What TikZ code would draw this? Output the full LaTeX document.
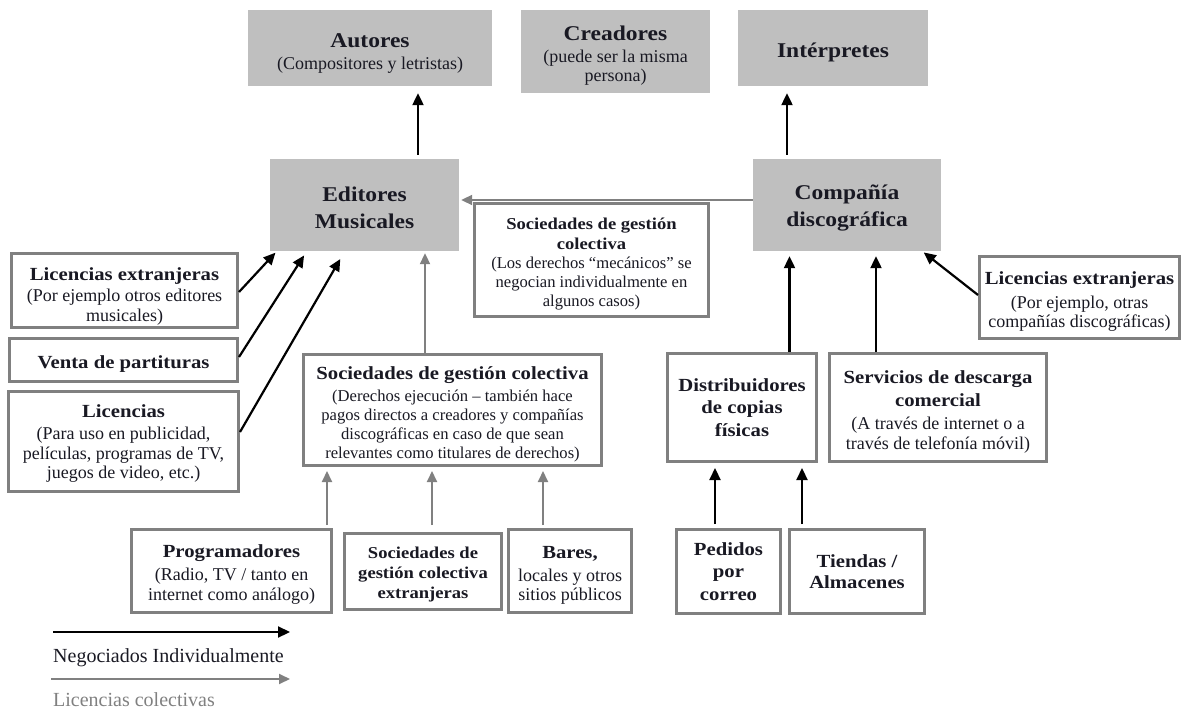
\documentclass[tikz,border=0pt]{standalone}
\usepackage{fontspec}
\setmainfont{Liberation Serif}[BoldFeatures={FakeStretch=1.12}]
\usepackage{xcolor}
\usepackage{tikz}
\usetikzlibrary{arrows.meta}
\definecolor{boxgray}{RGB}{191,191,191}
\definecolor{framegray}{RGB}{128,128,128}
\definecolor{txt}{RGB}{25,25,35}
\newcommand\bigtitle{\fontsize{21}{27}\selectfont\bfseries}
\newcommand\boxtitle{\fontsize{18.5}{22.5}\selectfont\bfseries}
\newcommand\smalltitle{\fontsize{16.6}{20}\selectfont\bfseries}
\newcommand\subtext{\fontsize{18}{19.5}\selectfont}
\newcommand\smalltext{\fontsize{16.6}{19}\selectfont}
\newcommand\capgap[1]{\rule{0pt}{#1pt}}

\begin{document}
\begin{tikzpicture}[x=1pt,y=-1pt,
  graybox/.style={fill=boxgray,inner sep=0pt,align=center,text=txt,font=\subtext},
  framebox/.style={draw=framegray,line width=3pt,fill=white,inner sep=0pt,align=center,text=txt,font=\subtext},
  blkarrow/.style={draw=black,line width=2.2pt,-{Triangle[length=12pt,width=11pt]}},
  grayarrow/.style={draw=framegray,line width=2pt,-{Triangle[length=11pt,width=10pt]}}]
\useasboundingbox (0,0) rectangle (1183,711);
% titulares
\node[graybox,minimum width=244pt,minimum height=76pt] (autores) at (370,48)
  {{\bigtitle\capgap{24}Autores}\\[2.5pt](Compositores y letristas)};
\node[graybox,minimum width=189pt,minimum height=83pt] (creadores) at (615.5,51.5)
  {{\bigtitle\capgap{22.5}Creadores}\\[2.5pt](puede ser la misma\\persona)};
\node[graybox,minimum width=190pt,minimum height=76pt,font=\bigtitle] (interpretes) at (833,48)
  {\capgap{23}Intérpretes};
\node[graybox,minimum width=189pt,minimum height=92pt,font=\bigtitle] (editores) at (364.5,205)
  {\capgap{20.5}Editores\\Musicales};
\node[graybox,minimum width=188pt,minimum height=92pt,font=\bigtitle] (compania) at (847,205)
  {\capgap{20.5}Compañía\\discográfica};
% lado editores
\node[framebox,minimum width=234pt,minimum height=113pt,font=\smalltext] (socmec) at (591.5,260)
  {{\smalltitle\capgap{20}Sociedades de gestión}\\[1pt]{\smalltitle colectiva}\\(Los derechos “mecánicos” se\\negocian individualmente en\\algunos casos)};
\node[framebox,minimum width=226pt,minimum height=74pt] (lext1) at (124.5,290.5)
  {{\boxtitle\capgap{24}Licencias extranjeras}\\[2pt](Por ejemplo otros editores\\musicales)};
\node[framebox,minimum width=228pt,minimum height=43pt,font=\boxtitle] (venta) at (123.5,360)
  {\capgap{20}Venta de partituras};
\node[framebox,minimum width=230pt,minimum height=100pt] (licen) at (123.5,441.5)
  {{\boxtitle\capgap{16.6}Licencias}\\[3pt](Para uso en publicidad,\\películas, programas de TV,\\juegos de video, etc.)};
\node[framebox,minimum width=298pt,minimum height=111pt,font=\smalltext] (soccol) at (452.5,410)
  {{\boxtitle\capgap{20.6}Sociedades de gestión colectiva}\\[3pt](Derechos ejecución -- también hace\\pagos directos a creadores y compañías\\discográficas en caso de que sean\\relevantes como titulares de derechos)};
\node[framebox,minimum width=200pt,minimum height=83pt] (prog) at (231.5,571)
  {{\boxtitle\capgap{19.6}Programadores}\\[3.5pt](Radio, TV / tanto en\\internet como análogo)};
\node[framebox,minimum width=157pt,minimum height=76pt,font=\smalltitle] (socext) at (423,571.5)
  {\capgap{17.3}Sociedades de\\gestión colectiva\\extranjeras};
\node[framebox,minimum width=123pt,minimum height=83pt] (bares) at (570,571)
  {{\boxtitle\capgap{20.6}Bares,}\\[3.5pt]locales y otros\\sitios públicos};
% lado discografica
\node[framebox,minimum width=200pt,minimum height=82pt] (lext2) at (1079.5,297.5)
  {{\boxtitle\capgap{21.6}Licencias extranjeras}\\[4pt](Por ejemplo, otras\\compañías discográficas)};
\node[framebox,minimum width=149pt,minimum height=108pt,font=\boxtitle] (distr) at (742,407.5)
  {Distribuidores\\de copias\\físicas};
\node[framebox,minimum width=217pt,minimum height=108pt] (serv) at (938,407.5)
  {{\boxtitle\capgap{21.6}Servicios de descarga}\\[3.5pt]{\boxtitle comercial}\\[4pt](A través de internet o a\\través de telefonía móvil)};
\node[framebox,minimum width=104pt,minimum height=84pt,font=\boxtitle] (pedidos) at (728.5,571.5)
  {Pedidos\\por\\correo};
\node[framebox,minimum width=135pt,minimum height=84pt,font=\boxtitle] (tiendas) at (857,571.5)
  {Tiendas /\\[-2pt]Almacenes};
% flechas negras
\draw[blkarrow,shorten <=4pt,shorten >=7pt] ([xshift=53.5pt]editores.north) -- ([xshift=53.5pt]editores.north |- autores.south);
\draw[blkarrow,shorten <=4pt,shorten >=7pt] ([xshift=-60pt]compania.north) -- ([xshift=-60pt]compania.north |- interpretes.south);
\draw[blkarrow,shorten >=2pt] ([yshift=-1.5pt]lext1.east) -- ([xshift=7pt]editores.south west);
\draw[blkarrow,shorten >=5pt] ([yshift=3pt]venta.east) -- ([xshift=37pt]editores.south west);
\draw[blkarrow,shorten >=9pt] ([yshift=9.5pt]licen.east) -- ([xshift=75pt]editores.south west);
\draw[blkarrow,shorten >=5pt] ([xshift=47.5pt]distr.north) -- ([xshift=47.5pt]distr.north |- compania.south);
\draw[blkarrow,shorten >=5pt] ([xshift=-62pt]serv.north) -- ([xshift=-62pt]serv.north |- compania.south);
\draw[blkarrow,shorten >=2pt] ([yshift=2.5pt]lext2.west) -- ([xshift=-19pt]compania.south east);
\draw[blkarrow,shorten <=4pt,shorten >=5pt] ([xshift=-13.5pt]pedidos.north) -- ([xshift=-13.5pt]pedidos.north |- distr.south);
\draw[blkarrow,shorten <=4pt,shorten >=5pt] ([xshift=-55pt]tiendas.north) -- ([xshift=-55pt]tiendas.north |- distr.south);
% flechas grises
\draw[grayarrow,shorten >=2pt] ([yshift=5pt]compania.west) -- ([yshift=5pt]editores.east);
\draw[grayarrow,shorten >=2pt] ([xshift=-27.5pt]soccol.north) -- ([xshift=-27.5pt]soccol.north |- editores.south);
\draw[grayarrow,shorten <=3pt,shorten >=4pt] ([xshift=95.5pt]prog.north) -- ([xshift=95.5pt]prog.north |- soccol.south);
\draw[grayarrow,shorten <=7pt,shorten >=4pt] ([xshift=9pt]socext.north) -- ([xshift=9pt]socext.north |- soccol.south);
\draw[grayarrow,shorten <=3pt,shorten >=4pt] ([xshift=-27pt]bares.north) -- ([xshift=-27pt]bares.north |- soccol.south);
% leyenda
\path coordinate (neg1) at (53,632)
      coordinate (neg2) at (290,632)
      coordinate (col1) at (51,679)
      coordinate (col2) at (290,679);
\draw[blkarrow] (neg1) -- (neg2);
\draw[grayarrow] (col1) -- (col2);
\node[anchor=west,inner sep=0pt,text=txt,font=\fontsize{20}{22}\selectfont] (negtxt) at (53,658) {Negociados Individualmente};
\node[anchor=west,inner sep=0pt,text=framegray,font=\fontsize{20}{22}\selectfont] (coltxt) at (53,700) {Licencias colectivas};
\end{tikzpicture}
\end{document}
